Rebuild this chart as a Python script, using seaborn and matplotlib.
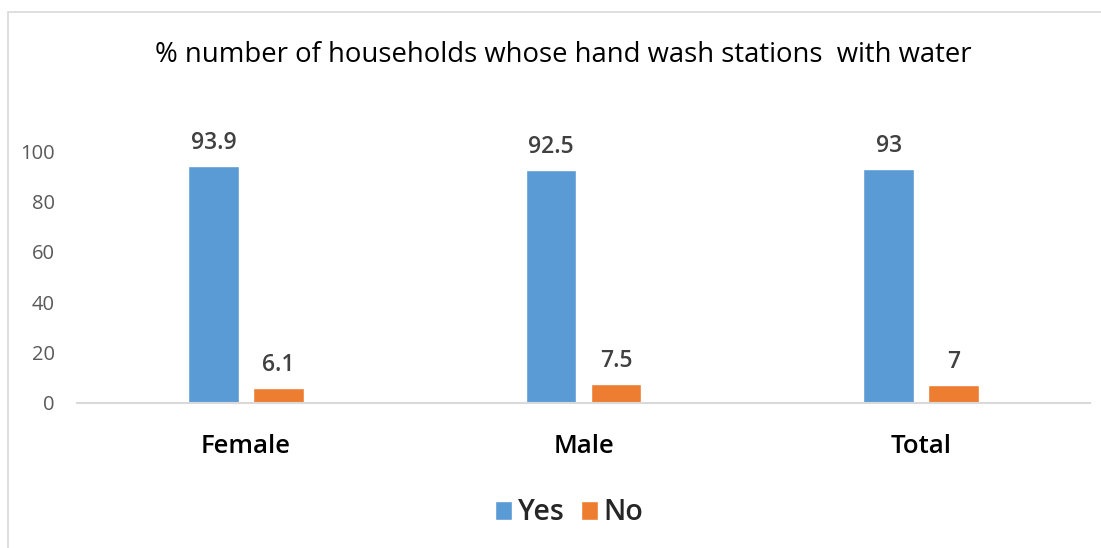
import matplotlib
matplotlib.use("Agg")
import matplotlib.pyplot as plt
import seaborn as sns
import pandas as pd
from matplotlib.patches import Rectangle

# data
groups = ["Female", "Male", "Total"]
yes_vals = [93.9, 92.5, 93]
no_vals = [6.1, 7.5, 7]
series = ["Yes", "No"]
yticks = [0, 20, 40, 60, 80, 100]

df = pd.DataFrame({
    "group": groups * 2,
    "answer": ["Yes"] * 3 + ["No"] * 3,
    "value": yes_vals + no_vals,
})

sns.set_style("white")
plt.rcParams['font.family'] = ['Open Sans', 'DejaVu Sans']

fig = plt.figure(figsize=(11.01, 5.48), dpi=100)
ax = fig.add_axes([77/1101, 1 - 403/548, (1090-77)/1101, 108*2.52/548])

sns.barplot(data=df, x="group", y="value", hue="answer", hue_order=series,
            palette=["#5B9BD5", "#ED7D31"], saturation=1, width=0.385, gap=0.216,
            errorbar=None, ax=ax, legend=True)

# value labels
for cont in ax.containers:
    ax.bar_label(cont, labels=['%g' % v for v in cont.datavalues],
                 padding=8, fontsize=16.5, color='#404040', fontweight='semibold')

ax.set_xlim(-0.5, 2.5)
ax.set_ylim(0, 108)
ax.set_yticks(yticks)
ax.tick_params(axis='y', labelsize=14.5, labelcolor='#595959', length=0, pad=16)
ax.tick_params(axis='x', labelsize=18.5, labelcolor='black', length=0, pad=22)
for lab in ax.get_xticklabels():
    lab.set_fontweight('semibold')
ax.set_xlabel('')
ax.set_ylabel('')
for s in ['top', 'right', 'left']:
    ax.spines[s].set_visible(False)
ax.spines['bottom'].set_color('#d9d9d9')
ax.spines['bottom'].set_linewidth(1.5)

fig.text(563/1101, 1 - 55/548, '% number of households whose hand wash stations  with water',
         ha='center', va='center', fontsize=19.8, color='black')

# legend
handles, labels = ax.get_legend_handles_labels()
ax.legend(handles, labels, loc='center', bbox_to_anchor=(569/1101, 1 - 513/548),
          bbox_transform=fig.transFigure, ncol=2, frameon=False,
          prop={'size': 20.5, 'weight': 'semibold'},
          handlelength=0.6, handleheight=0.6, handletextpad=0.2, columnspacing=0.6)

# chart frame (only top and left edges visible)
fig.patches.append(Rectangle((8/1101, -0.2), 1.2, 1 - 12/548 + 0.2,
                             transform=fig.transFigure, fill=False,
                             edgecolor='#d9d9d9', linewidth=1.2))

fig.savefig('out.png', dpi=100)
